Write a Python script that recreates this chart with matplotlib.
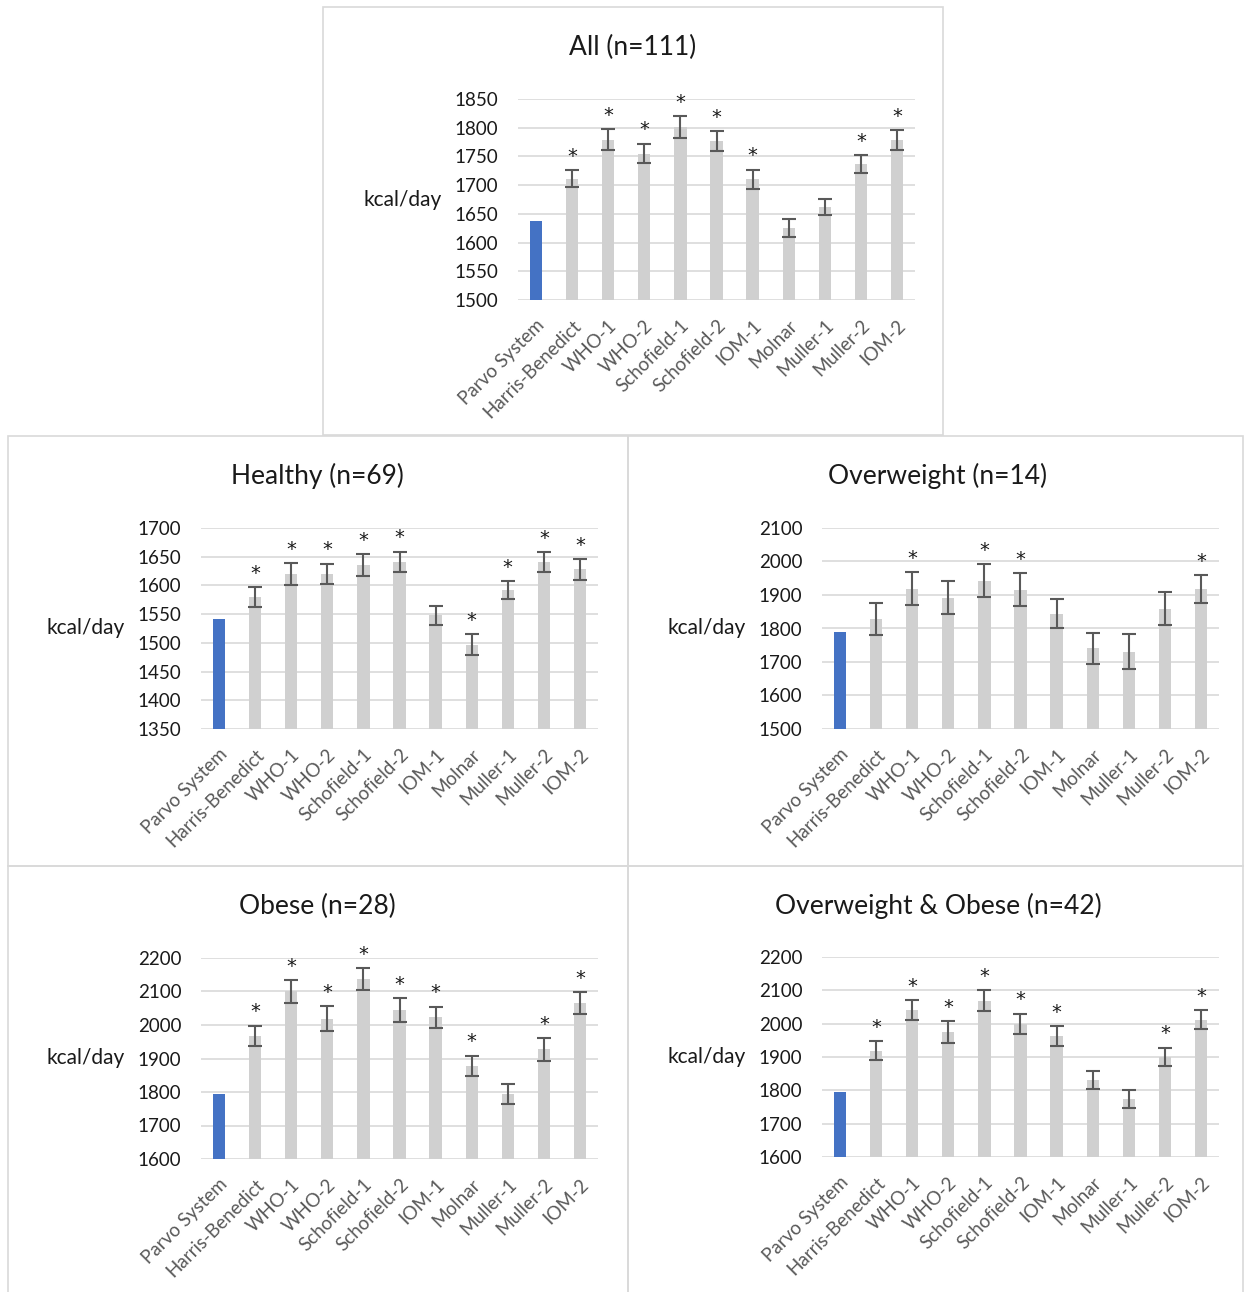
import matplotlib
matplotlib.use('Agg')
import matplotlib.pyplot as plt
from matplotlib.patches import Rectangle

plt.rcParams['font.family'] = ['Lato', 'DejaVu Sans']

methods = ['Parvo System', 'Harris-Benedict', 'WHO-1', 'WHO-2', 'Schofield-1',
           'Schofield-2', 'IOM-1', 'Molnar', 'Muller-1', 'Muller-2', 'IOM-2']

# mean kcal/day per method, error (SE) and significance flag per group
all_mean = [1638, 1711, 1779, 1755, 1801, 1777, 1710, 1625, 1662, 1737, 1779]
all_err = [0, 15, 18, 17, 19, 17, 17, 16, 14, 15, 17]
all_sig = [0, 1, 1, 1, 1, 1, 1, 0, 0, 1, 1]

healthy_mean = [1542, 1580, 1620, 1620, 1635, 1641, 1548, 1497, 1592, 1641, 1628]
healthy_err = [0, 17, 19, 18, 19, 18, 17, 18, 16, 17, 18]
healthy_sig = [0, 1, 1, 1, 1, 1, 0, 1, 1, 1, 1]

over_mean = [1790, 1829, 1919, 1892, 1943, 1916, 1844, 1741, 1731, 1859, 1918]
over_err = [0, 47, 50, 50, 50, 50, 44, 46, 52, 49, 42]
over_sig = [0, 0, 1, 0, 1, 1, 0, 0, 0, 0, 1]

obese_mean = [1795, 1967, 2100, 2019, 2136, 2045, 2023, 1878, 1794, 1927, 2065]
obese_err = [0, 31, 33, 38, 33, 36, 32, 30, 31, 33, 33]
obese_sig = [0, 1, 1, 1, 1, 1, 1, 1, 0, 1, 1]

ovob_mean = [1795, 1919, 2040, 1975, 2069, 1999, 1963, 1832, 1775, 1901, 2012]
ovob_err = [0, 28, 30, 32, 31, 31, 29, 27, 27, 27, 28]
ovob_sig = [0, 1, 1, 1, 1, 1, 1, 0, 0, 1, 1]

W, H = 1244, 1292
fig = plt.figure(figsize=(W / 100, H / 100), dpi=100)

def px_rect(x0, y0, x1, y1):
    return [x0 / W, 1 - y1 / H, (x1 - x0) / W, (y1 - y0) / H]

# panel frames
for x0, y0, x1, y1 in [(323, 7, 943, 435), (8, 436, 628, 866), (628, 436, 1243, 866),
                       (8, 866, 628, 1300), (628, 866, 1243, 1300)]:
    l, b, w, h = px_rect(x0, y0, x1, y1)
    fig.add_artist(Rectangle((l, b), w, h, transform=fig.transFigure,
                             fill=False, edgecolor='#d9d9d9', linewidth=1.2))

def panel(rect, title, title_xy, mean, err, sig, ylim, step):
    ax = fig.add_axes(px_rect(*rect))
    x = range(len(methods))
    colors = ['#4472C4'] + ['#d0d0d0'] * (len(methods) - 1)
    ax.bar(x, mean, width=0.34, color=colors, zorder=2)
    ax.errorbar(list(x)[1:], mean[1:], yerr=err[1:], fmt='none', ecolor='#595959',
                elinewidth=1.5, capsize=5, capthick=1.5, zorder=3)
    for i in x:
        if sig[i]:
            ax.annotate('*', (i, mean[i] + err[i]), xytext=(0, 6), textcoords='offset points',
                        ha='center', va='baseline', fontsize=14, color='#1a1a1a',
                        family='DejaVu Sans')
    ax.set_ylim(*ylim)
    ax.set_xlim(-0.5, len(methods) - 0.5)
    ax.set_yticks(range(ylim[0], ylim[1] + 1, step))
    ax.yaxis.grid(True, color='#d9d9d9', linewidth=1.2, zorder=0)
    ax.set_axisbelow(True)
    for s in ax.spines.values():
        s.set_visible(False)
    ax.tick_params(axis='both', length=0, labelsize=13.5)
    ax.tick_params(axis='y', pad=14, labelcolor='#1a1a1a')
    ax.set_xticks(list(x))
    ax.set_xticklabels(methods, rotation=45, ha='right', rotation_mode='anchor')
    ax.tick_params(axis='x', pad=12, labelcolor='#595959')
    ax.text(-0.29, 0.5, 'kcal/day', transform=ax.transAxes, ha='center', va='center',
            fontsize=15, color='#1a1a1a')
    fig.text(title_xy[0] / W, 1 - title_xy[1] / H, title, ha='center', va='center',
             fontsize=19, color='#1a1a1a')
    return ax

panel((518, 99, 915, 300), 'All (n=111)', (633, 47), all_mean, all_err, all_sig, (1500, 1850), 50)
panel((201, 528, 598, 729), 'Healthy (n=69)', (317, 476), healthy_mean, healthy_err, healthy_sig, (1350, 1700), 50)
panel((822, 528, 1219, 729), 'Overweight (n=14)', (938, 476), over_mean, over_err, over_sig, (1500, 2100), 100)
panel((201, 958, 598, 1159), 'Obese (n=28)', (317, 906), obese_mean, obese_err, obese_sig, (1600, 2200), 100)
panel((822, 957, 1219, 1157), 'Overweight & Obese (n=42)', (938, 906), ovob_mean, ovob_err, ovob_sig, (1600, 2200), 100)

fig.savefig('out.png', dpi=100, facecolor='white')
